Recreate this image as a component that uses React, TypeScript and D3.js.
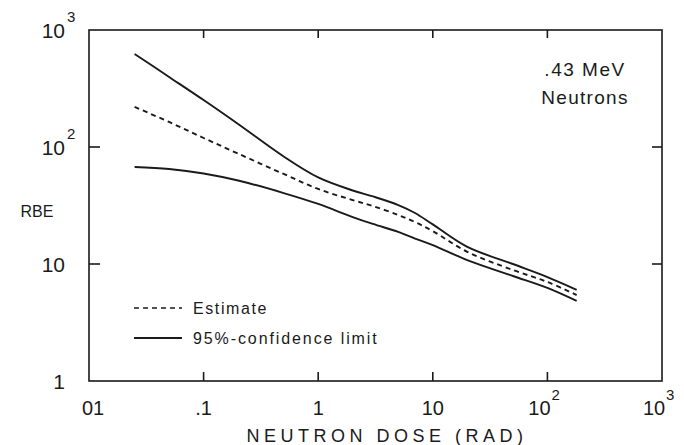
import React from "react";
import * as d3 from "d3";

const doseValues = [0.025, 0.05, 0.1, 0.2, 0.5, 1, 2, 3, 5, 7, 10, 20, 50, 100, 180];
const estimate = [220, 163.6, 119.4, 87.8, 58.8, 43.8, 35.2, 31.3, 26.2, 22.8, 19.1, 12.7, 8.89, 7.02, 5.43];
const upperLimit = [624, 397, 252, 157.3, 82.9, 54.9, 42.5, 37.8, 31.9, 27.3, 21.8, 14.0, 10.0, 7.74, 6.0];
const lowerLimit = [67.5, 64.9, 59.4, 51.7, 40.4, 32.6, 25.2, 22.0, 18.8, 16.5, 14.5, 10.8, 7.9, 6.24, 4.83];

const xTickValues = [0.01, 0.1, 1, 10, 100, 1000];
const xTickBase = ["01", ".1", "1", "10", "10", "10"];
const xTickExp = ["", "", "", "", "2", "3"];
const yTickValues = [1, 10, 100, 1000];
const yTickBase = ["1", "10", "10", "10"];
const yTickExp = ["", "", "2", "3"];

const legendLabels = ["Estimate", "95%-confidence limit"];
const annotation = [".43 MeV", "Neutrons"];
const xTitle = "NEUTRON DOSE (RAD)";
const yTitle = "RBE";

const W = 684;
const H = 445;
const L = 89, R = 662, T = 30, B = 381;
const INK = "#1a1a1a";
const FONT = "'Liberation Sans', Arial, sans-serif";

export default function App() {
  const x = d3.scaleLog().domain([0.01, 1000]).range([L, R]);
  const y = d3.scaleLog().domain([1, 1000]).range([B, T]);
  const line = d3
    .line<number>()
    .x((_, i) => x(doseValues[i]))
    .y((d) => y(d))
    .curve(d3.curveCatmullRom.alpha(0.5));

  const inner = [0.1, 1, 10, 100];
  const innerY = [10, 100];

  return (
    <svg
      width={W}
      height={H}
      style={{ position: "absolute", left: 0, top: 0, background: "#fff" }}
      fontFamily={FONT}
    >
      <rect x={0} y={0} width={W} height={H} fill="#fff" />
      <rect x={L} y={T} width={R - L} height={B - T} fill="none" stroke={INK} strokeWidth={1.6} />
      {inner.map((v) => (
        <g key={"xt" + v}>
          <line x1={x(v)} x2={x(v)} y1={B} y2={B - 9} stroke={INK} strokeWidth={1.6} />
          <line x1={x(v)} x2={x(v)} y1={T} y2={T + 8} stroke={INK} strokeWidth={1.6} />
        </g>
      ))}
      {innerY.map((v) => (
        <g key={"yt" + v}>
          <line x1={L} x2={L + 11} y1={y(v)} y2={y(v)} stroke={INK} strokeWidth={1.6} />
          <line x1={R} x2={R - 10} y1={y(v)} y2={y(v)} stroke={INK} strokeWidth={1.6} />
        </g>
      ))}

      {yTickValues.map((v, i) => (
        <g key={"yl" + v}>
          <text x={65} y={y(v)} dy="0.36em" textAnchor="end" fontSize={21} fill={INK}>
            {yTickBase[i]}
          </text>
          {yTickExp[i] && (
            <text x={67} y={y(v) - 8} textAnchor="start" fontSize={15} fill={INK}>
              {yTickExp[i]}
            </text>
          )}
        </g>
      ))}

      {xTickValues.map((v, i) => (
        <g key={"xl" + v}>
          <text
            x={x(v) + (xTickExp[i] ? -8 : i === 0 ? 4 : 0)}
            y={408}
            dy="0.36em"
            textAnchor="middle"
            fontSize={20}
            fill={INK}
          >
            {xTickBase[i]}
          </text>
          {xTickExp[i] && (
            <text x={x(v) + 4} y={400} textAnchor="start" fontSize={15} fill={INK}>
              {xTickExp[i]}
            </text>
          )}
        </g>
      ))}

      <text x={387} y={436} dy="0.36em" textAnchor="middle" fontSize={18} letterSpacing={4.5} fill={INK}>
        {xTitle}
      </text>
      <text x={37} y={211} dy="0.36em" textAnchor="middle" fontSize={16} fill={INK}>
        {yTitle}
      </text>

      <text x={585} y={69} dy="0.36em" textAnchor="middle" fontSize={19} letterSpacing={1.5} fill={INK}>
        {annotation[0]}
      </text>
      <text x={585} y={97} dy="0.36em" textAnchor="middle" fontSize={19} letterSpacing={1.3} fill={INK}>
        {annotation[1]}
      </text>

      <path d={line(upperLimit) ?? ""} fill="none" stroke={INK} strokeWidth={1.9} />
      <path d={line(lowerLimit) ?? ""} fill="none" stroke={INK} strokeWidth={1.9} />
      <path d={line(estimate) ?? ""} fill="none" stroke={INK} strokeWidth={1.9} strokeDasharray="5,4" />

      <line x1={134} x2={182} y1={308} y2={308} stroke={INK} strokeWidth={1.6} strokeDasharray="5,4" />
      <line x1={134} x2={182} y1={338} y2={338} stroke={INK} strokeWidth={1.8} />
      <text x={193} y={308} dy="0.36em" fontSize={16} letterSpacing={1.6} fill={INK}>
        {legendLabels[0]}
      </text>
      <text x={193} y={338} dy="0.36em" fontSize={16} letterSpacing={1.9} fill={INK}>
        {legendLabels[1]}
      </text>
    </svg>
  );
}
